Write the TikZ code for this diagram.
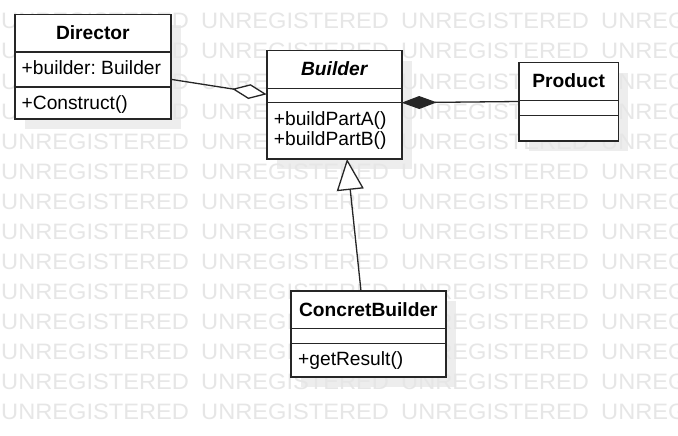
\documentclass[tikz,border=0pt]{standalone}
\usepackage{fontspec}
\setmainfont{Liberation Sans}
\usetikzlibrary{arrows.meta,calc}
\pgfdeclarelayer{shadowlayer}
\pgfdeclarelayer{marklayer}
\pgfsetlayers{shadowlayer,marklayer,main}
\definecolor{ink}{HTML}{262626}
\definecolor{shadowgray}{HTML}{EDEDED}
\definecolor{markgray}{HTML}{E6E6E6}
\begin{document}
\begin{tikzpicture}[x=1pt,y=-1pt,
  umlbox/.style={draw=ink, line width=1.6pt, fill=white, inner sep=0pt, outer sep=0pt},
  boxshadow/.style={fill=shadowgray},
  classtitle/.style={font=\fontsize{19.2}{21}\selectfont\bfseries, inner sep=0pt, anchor=base},
  member/.style={font=\fontsize{19.2}{21}\selectfont, inner sep=0pt, anchor=base west},
  divider/.style={draw=ink, line width=1.4pt},
  wmark/.style={font=\fontsize{22.3}{24}\selectfont, text=markgray, inner sep=0pt, anchor=base west},
  link/.style={draw=ink, line width=1.3pt},
]
\useasboundingbox (0,0) rectangle (678,436);
\clip (0,0) rectangle (678,436);

% class boxes
\node[umlbox, minimum width=155.7pt, minimum height=104.6pt] (director) at (92.85,67) {};
\node[umlbox, minimum width=135pt, minimum height=108.3pt] (builder) at (334.2,104.85) {};
\node[umlbox, minimum width=99.3pt, minimum height=78pt] (product) at (568.65,101.7) {};
\node[umlbox, minimum width=154.7pt, minimum height=85.7pt] (concret) at (368.35,333.85) {};

% compartment dividers
\draw[divider] (director.west |- 0,52) -- (director.east |- 0,52);
\draw[divider] (director.west |- 0,87) -- (director.east |- 0,87);
\draw[divider] (builder.west |- 0,88.3) -- (builder.east |- 0,88.3);
\draw[divider] (builder.west |- 0,102.7) -- (builder.east |- 0,102.7);
\draw[divider] (product.west |- 0,100.7) -- (product.east |- 0,100.7);
\draw[divider] (product.west |- 0,115.3) -- (product.east |- 0,115.3);
\draw[divider] (concret.west |- 0,328.3) -- (concret.east |- 0,328.3);
\draw[divider] (concret.west |- 0,343.3) -- (concret.east |- 0,343.3);

% class names and members
\node[classtitle] (directorName) at (director.center |- 0,40) {Director};
\node[member] (directorAttr) at (21.5,75) {+builder:\kern0.28em Builder};
\node[member] (directorOp) at (21.5,109.5) {+Construct()};

\node[classtitle, font=\fontsize{19.2}{21}\selectfont\bfseries\itshape] (builderName) at (builder.center |- 0,75.7) {Builder};
\node[member] (builderOpA) at (273.7,125) {+buildPartA()};
\node[member] (builderOpB) at (273.7,146) {+buildPartB()};

\node[classtitle] (productName) at (product.center |- 0,87.7) {Product};

\node[classtitle] (concretName) at (concret.center |- 0,316.7) {ConcretBuilder};
\node[member] (concretOp) at (298,365) {+getResult()};

% connector end points on the box edges
\coordinate (aggFrom) at ($(director.north east)+(0,64.6)$);
\coordinate (aggTo) at ($(builder.north west)+(0,43.6)$);
\coordinate (compAt) at ($(builder.north east)+(0,52)$);
\coordinate (compTo) at ($(product.north west)+(0,38.8)$);
\coordinate (genFrom) at ($(concret.north west)+(70,0)$);
\coordinate (genTo) at ($(builder.south west)+(80.3,0)$);

% aggregation, composition, generalization
\draw[link, -{Diamond[fill=white, length=35pt, width=15pt]}] (aggFrom) -- (aggTo);
\draw[link, {Diamond[length=35pt, width=13pt]}-] (compAt) -- (compTo);
\draw[link, -{Triangle[fill=white, length=31pt, width=27pt]}] (genFrom) -- (genTo);

% page background and drop shadows
\begin{pgfonlayer}{shadowlayer}
  \fill[white] (0,0) rectangle (678,436);
  \foreach \b in {director,builder,product,concret}
    \fill[boxshadow] ($(\b.north west)+(10,10)$) rectangle ($(\b.south east)+(10,10)$);
\end{pgfonlayer}

% background watermark
\begin{pgfonlayer}{marklayer}
  \foreach \k in {0,...,13}
    \foreach \j in {0,...,3}
      \node[wmark] (wm-\k-\j) at (1+200*\j, 29+30*\k) {\scalebox{1.06}[1]{UNREGISTERED}};
\end{pgfonlayer}
\end{tikzpicture}
\end{document}
